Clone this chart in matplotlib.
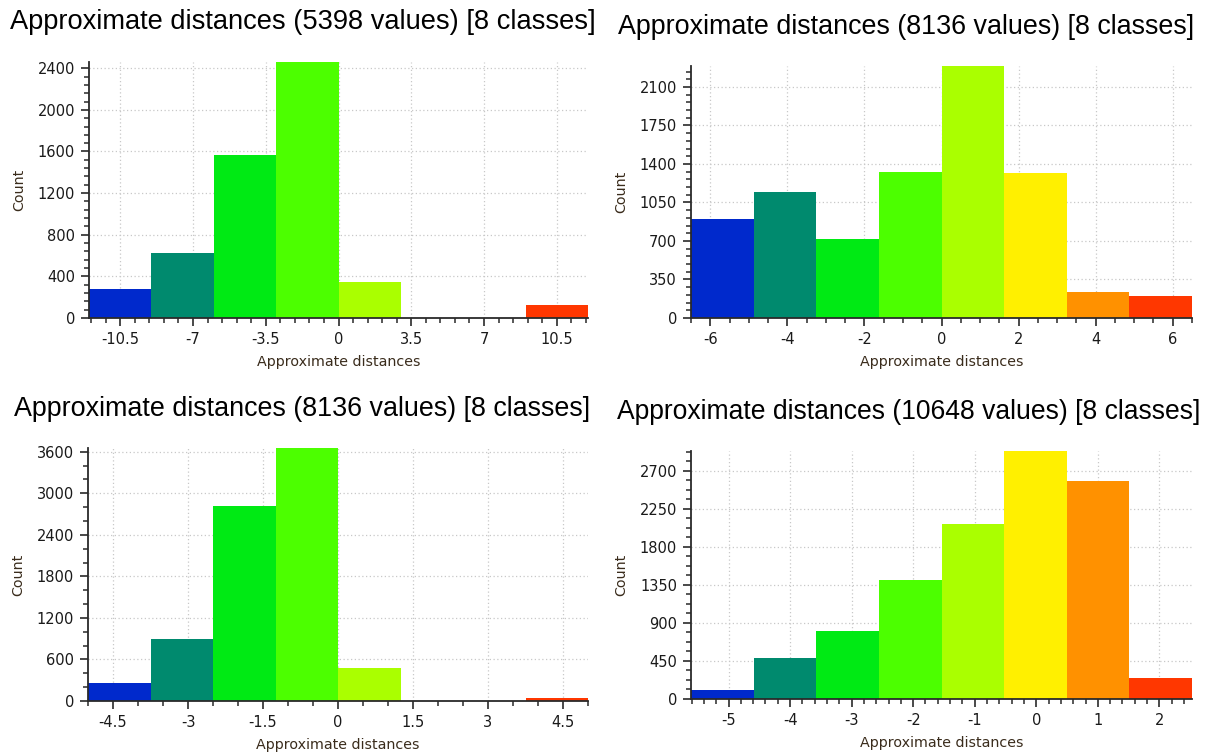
import numpy as np
import matplotlib
matplotlib.use('Agg')
import matplotlib.pyplot as plt
from matplotlib.ticker import MultipleLocator, AutoMinorLocator

# class colours, same order for every histogram
CLASS_COLORS = ['#0029cc', '#008a6e', '#00ea14', '#4cff00',
                '#aaff00', '#fff000', '#ff9100', '#ff3700']

# histogram 1
counts_1 = [280, 622, 1565, 2460, 350, 0, 0, 121]
range_1 = (-12, 12)
total_1 = 5398

# histogram 2
counts_2 = [899, 1142, 718, 1330, 2290, 1318, 236, 203]
range_2 = (-6.5, 6.5)
total_2 = 8136

# histogram 3
counts_3 = [265, 890, 2815, 3655, 472, 0, 0, 39]
range_3 = (-5, 5)
total_3 = 8136

# histogram 4
counts_4 = [110, 490, 805, 1410, 2070, 2935, 2575, 253]
range_4 = (-5.61, 2.53)
total_4 = 10648

panels = [
    # counts, range, total, axes rect (px), x major, x minor div, y major, y minor div,
    # title pos (px), title size
    (counts_1, range_1, total_1, (89, 62, 588, 318), 3.5, 5, 400, 5, (10, 22), 19.6),
    (counts_2, range_2, total_2, (691, 66, 1192, 318), 2, 4, 350, 5, (618, 27), 19.4),
    (counts_3, range_3, total_3, (88, 448, 588, 701), 1.5, 3, 600, 3, (14, 409), 19.4),
    (counts_4, range_4, total_4, (691, 451, 1192, 699), 1, 5, 450, 4, (617, 412), 19.1),
]

W, H = 1209, 753
fig = plt.figure(figsize=(W / 100, H / 100), dpi=100)
fig.patch.set_facecolor('white')

AX_COLOR = '#2a2a2a'
TXT_COLOR = '#1a1a1a'
LBL_COLOR = '#3a2c1c'

for counts, (lo, hi), total, (x0, y0, x1, y1), xmaj, xdiv, ymaj, ydiv, (tx, ty), tsize in panels:
    ax = fig.add_axes([x0 / W, 1 - y1 / H, (x1 - x0) / W, (y1 - y0) / H])
    edges = np.linspace(lo, hi, len(counts) + 1)
    ax.bar(edges[:-1], counts, width=np.diff(edges), align='edge',
           color=CLASS_COLORS, edgecolor='none', zorder=2)
    ax.set_xlim(lo, hi)
    ax.set_ylim(0, max(counts))

    ax.xaxis.set_major_locator(MultipleLocator(xmaj))
    ax.xaxis.set_minor_locator(AutoMinorLocator(xdiv))
    ax.yaxis.set_major_locator(MultipleLocator(ymaj))
    ax.yaxis.set_minor_locator(AutoMinorLocator(ydiv))
    ax.xaxis.set_major_formatter(lambda v, p: f'{v:g}')

    ax.grid(True, which='major', color='#c8c8c8', linestyle=(0, (1, 2)),
            linewidth=0.9, zorder=0)
    ax.set_axisbelow(True)

    for s in ('top', 'right'):
        ax.spines[s].set_visible(False)
    for s in ('left', 'bottom'):
        ax.spines[s].set_color(AX_COLOR)
        ax.spines[s].set_linewidth(1.3)
        ax.spines[s].set_zorder(3)

    ax.tick_params(which='major', length=6, width=1.2, color=AX_COLOR,
                   labelsize=10.5, labelcolor=TXT_COLOR, pad=4)
    ax.tick_params(which='minor', length=3.5, width=1.1, color=AX_COLOR)

    ax.set_xlabel('Approximate distances', fontsize=10.3, color=LBL_COLOR)
    ax.set_ylabel('Count', fontsize=10.3, color=LBL_COLOR)
    ax.xaxis.set_label_coords(0.5, -44 / (y1 - y0))
    ax.xaxis.label.set_va('center')
    ax.yaxis.set_label_coords(-70 / (x1 - x0), 0.5)
    ax.yaxis.label.set_va('center')

    fig.text(tx / W, 1 - ty / H,
             f'Approximate distances ({total} values) [{len(counts)} classes]',
             fontsize=tsize, family='Liberation Sans', color='black',
             ha='left', va='center')

fig.savefig('out.png', dpi=100, facecolor='white')
